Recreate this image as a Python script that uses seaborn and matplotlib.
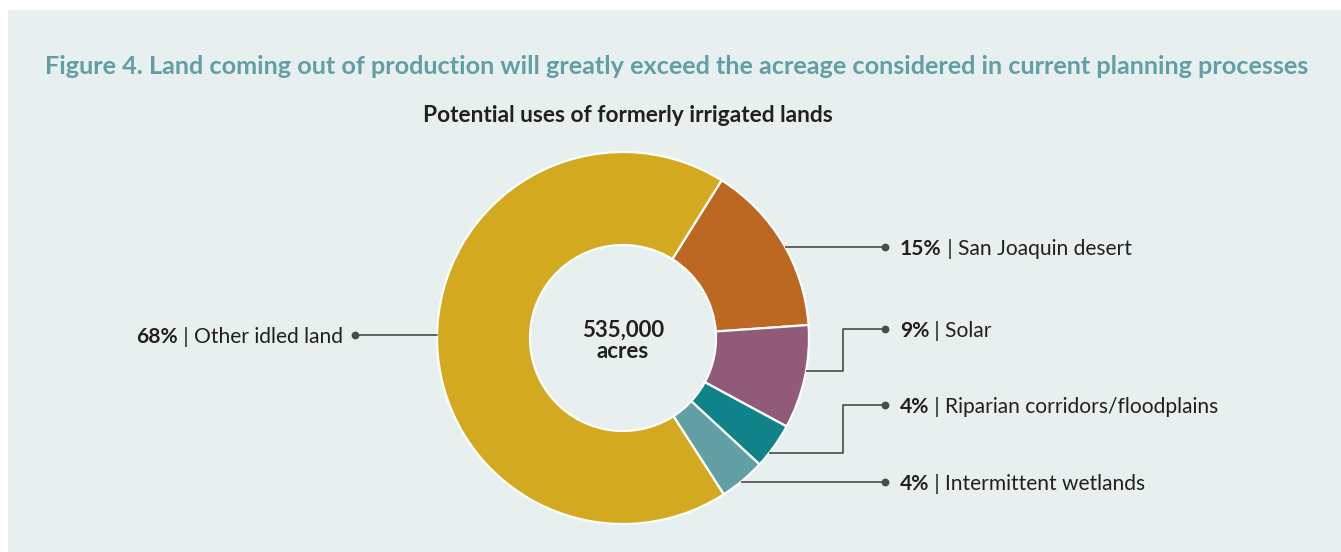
import numpy as np
import matplotlib
matplotlib.use("Agg")
import matplotlib.pyplot as plt
from matplotlib.patches import Rectangle
import seaborn as sns

# ---- data ----
categories = ["San Joaquin desert", "Solar", "Riparian corridors/floodplains",
              "Intermittent wetlands", "Other idled land"]
shares = [15, 9, 4, 4, 68]
pct_labels = ["15%", "9%", "4%", "4%", "68%"]
colors = ["#bd6822", "#915a78", "#0f828a", "#62a0a6", "#d3aa1f"]
total_value = "535,000"
total_unit = "acres"
title = ("Figure 4. Land coming out of production will greatly exceed the "
         "acreage considered in current planning processes")
subtitle = "Potential uses of formerly irrigated lands"

# ---- style ----
sns.set_theme(style="white")
FONT = ["Lato", "DejaVu Sans"]
plt.rcParams["font.family"] = FONT
TXT = "#231f20"
LINE = "#4a4a4a"
BG = "#e7f0ef"

W, H = 1341, 552
fig = plt.figure(figsize=(W / 100, H / 100), dpi=100, facecolor="white")
ax = fig.add_axes([0, 0, 1, 1])

# panel background
ax.add_patch(Rectangle((8, 0), W - 8, H - 10, facecolor=BG, edgecolor="none", zorder=0))

def Y(y):
    return H - y

cx, cy, R = 623, Y(338), 186
wedges, _ = ax.pie(shares, colors=colors, startangle=58, counterclock=False,
                   center=(cx, cy), radius=R, frame=True,
                   wedgeprops=dict(width=R * 0.5, edgecolor="white", linewidth=1.6))
ax.set_xlim(0, W)
ax.set_ylim(0, H)
ax.set_aspect("equal")
ax.axis("off")

ax.text(cx, cy + 8, total_value, ha="center", va="center", fontsize=16,
        fontweight="bold", color=TXT)
ax.text(cx, cy - 13, total_unit, ha="center", va="center", fontsize=16,
        fontweight="bold", color=TXT)

ax.text(677, Y(66), title, ha="center", va="center", fontsize=18.2,
        fontweight="bold", color="#619fa5")
ax.text(628, Y(115), subtitle, ha="center", va="center", fontsize=16.4,
        fontweight="bold", color=TXT)

# leader layout: (anchor y on ring, label y, elbow x, side)
layout = [
    (247, 247, None, "right"),
    (371, 329, 843, "right"),
    (453, 405, 843, "right"),
    (482, 482, None, "right"),
    (335, 335, None, "left"),
]
LFS = 15.1
for (ay, ly, ex, side), cat, pct in zip(layout, categories, pct_labels):
    dy = ay - 338
    if side == "right":
        sx = cx + np.sqrt(R ** 2 - dy ** 2)
        dotx = 885
        if ex is None:
            xs, ys = [sx, dotx], [Y(ay), Y(ly)]
        else:
            xs, ys = [sx, ex, ex, dotx], [Y(ay), Y(ay), Y(ly), Y(ly)]
        ax.plot(xs, ys, color=LINE, lw=1.2, solid_capstyle="butt", zorder=1)
        ax.plot([dotx], [Y(ly)], "o", color=LINE, ms=4.6, zorder=2)
        t1 = ax.text(dotx + 15, Y(ly), pct, ha="left", va="center_baseline",
                     fontsize=LFS, fontweight="bold", color=TXT)
        ax.annotate(" | " + cat, xy=(1, 0), xycoords=t1, ha="left", va="bottom",
                    fontsize=LFS, color=TXT)
    else:
        sx = cx - np.sqrt(R ** 2 - dy ** 2)
        dotx = 355
        ax.plot([dotx, sx], [Y(ly), Y(ly)], color=LINE, lw=1.2, zorder=1)
        ax.plot([dotx], [Y(ly)], "o", color=LINE, ms=4.6, zorder=2)
        t2 = ax.text(dotx - 12, Y(ly), " | " + cat, ha="right",
                     va="center_baseline", fontsize=LFS, color=TXT)
        ax.annotate(pct, xy=(0, 0), xycoords=t2, ha="right", va="bottom",
                    fontsize=LFS, fontweight="bold", color=TXT)

fig.savefig("out.png", dpi=100, facecolor="white")
